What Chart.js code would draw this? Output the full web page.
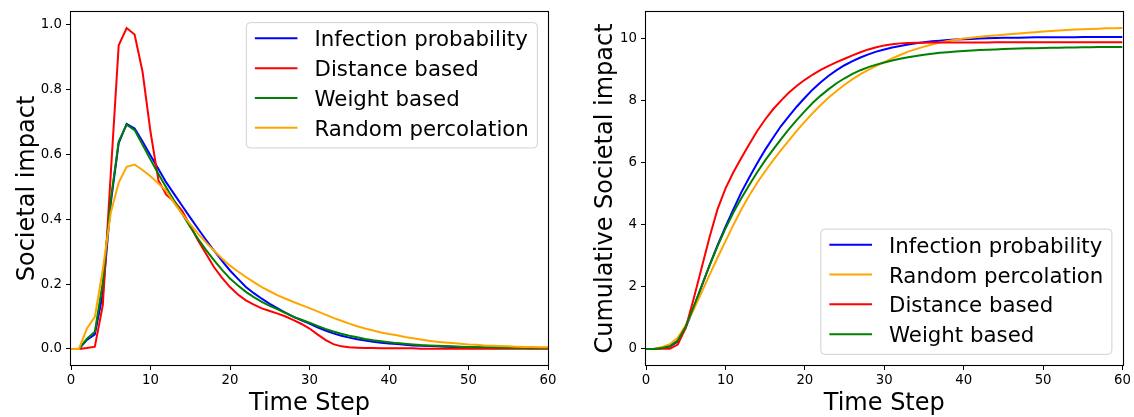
<!DOCTYPE html>
<html>
<head>
<meta charset="utf-8">
<script src="https://cdn.jsdelivr.net/npm/chart.js@4.4.1/dist/chart.umd.min.js"></script>
<style>
  html, body { margin: 0; padding: 0; background: #ffffff; }
  body { width: 1134px; height: 417px; position: relative; overflow: hidden; }
  canvas { position: absolute; top: 0; }
  #leftChart { left: 0; }
  #rightChart { left: 560px; }
</style>
</head>
<body>
<canvas id="leftChart" width="560" height="417"></canvas>
<canvas id="rightChart" width="574" height="417"></canvas>
<script>
// ---------------- DATA ----------------
const timeSteps = [
  0, 1, 2, 3, 4, 5, 6, 7, 8, 9,
  10, 11, 12, 13, 14, 15, 16, 17, 18, 19,
  20, 21, 22, 23, 24, 25, 26, 27, 28, 29,
  30, 31, 32, 33, 34, 35, 36, 37, 38, 39,
  40, 41, 42, 43, 44, 45, 46, 47, 48, 49,
  50, 51, 52, 53, 54, 55, 56, 57, 58, 59,
  60
];

const xTickValues = [0, 10, 20, 30, 40, 50, 60];
const xTickLabels = ['0', '10', '20', '30', '40', '50', '60'];
const yTickValuesLeft = [0, 0.2, 0.4, 0.6, 0.8, 1.0];
const yTickLabelsLeft = ['0.0', '0.2', '0.4', '0.6', '0.8', '1.0'];
const yTickValuesRight = [0, 2, 4, 6, 8, 10];
const yTickLabelsRight = ['0', '2', '4', '6', '8', '10'];

// Left panel: societal impact per time step
const impactInfection = [
  0, 0, 0.028, 0.045, 0.17, 0.45, 0.635, 0.694, 0.68, 0.64,
  0.597, 0.555, 0.513, 0.477, 0.441, 0.405, 0.370, 0.336, 0.303, 0.272,
  0.242, 0.216, 0.191, 0.172, 0.155, 0.139, 0.125, 0.111, 0.099, 0.088,
  0.078, 0.067, 0.057, 0.048, 0.041, 0.035, 0.030, 0.026, 0.022, 0.019,
  0.017, 0.015, 0.013, 0.011, 0.010, 0.009, 0.008, 0.007, 0.006, 0.006,
  0.005, 0.005, 0.004, 0.004, 0.004, 0.003, 0.003, 0.003, 0.002, 0.002,
  0.002
];
const impactDistance = [
  0, 0, 0.003, 0.007, 0.135, 0.54, 0.937, 0.99, 0.97, 0.855,
  0.67, 0.52, 0.475, 0.455, 0.425, 0.38, 0.334, 0.293, 0.252, 0.219,
  0.191, 0.168, 0.150, 0.137, 0.125, 0.117, 0.109, 0.100, 0.089, 0.077,
  0.063, 0.045, 0.028, 0.015, 0.008, 0.005, 0.004, 0.003, 0.003, 0.002,
  0.002, 0.002, 0.002, 0.002, 0.001, 0.001, 0.001, 0.001, 0.001, 0.001,
  0.001, 0.001, 0.001, 0.001, 0.001, 0.001, 0.001, 0.001, 0.001, 0.001,
  0.001
];
const impactWeight = [
  0, 0, 0.032, 0.053, 0.205, 0.46, 0.64, 0.692, 0.675, 0.63,
  0.584, 0.54, 0.497, 0.456, 0.416, 0.376, 0.339, 0.305, 0.273, 0.244,
  0.217, 0.196, 0.176, 0.160, 0.145, 0.133, 0.122, 0.111, 0.099, 0.090,
  0.081, 0.071, 0.062, 0.054, 0.047, 0.041, 0.036, 0.031, 0.027, 0.024,
  0.021, 0.018, 0.016, 0.014, 0.012, 0.011, 0.010, 0.009, 0.008, 0.007,
  0.006, 0.005, 0.005, 0.005, 0.004, 0.004, 0.003, 0.003, 0.003, 0.003,
  0.003
];
const impactRandom = [
  0, 0, 0.063, 0.099, 0.245, 0.42, 0.513, 0.562, 0.569, 0.552,
  0.533, 0.51, 0.487, 0.45, 0.416, 0.385, 0.355, 0.328, 0.303, 0.279,
  0.257, 0.239, 0.222, 0.206, 0.191, 0.178, 0.165, 0.155, 0.145, 0.135,
  0.126, 0.116, 0.106, 0.096, 0.087, 0.078, 0.070, 0.063, 0.057, 0.051,
  0.046, 0.042, 0.037, 0.033, 0.029, 0.025, 0.022, 0.020, 0.018, 0.016,
  0.014, 0.013, 0.011, 0.010, 0.009, 0.008, 0.007, 0.006, 0.006, 0.005,
  0.005
];

// Right panel: cumulative societal impact
const cumInfection = [
  0, 0, 0.03, 0.075, 0.24, 0.69, 1.33, 2.02, 2.70, 3.34,
  3.94, 4.50, 5.05, 5.53, 5.99, 6.42, 6.81, 7.19, 7.51, 7.82,
  8.10, 8.37, 8.60, 8.81, 8.99, 9.15, 9.28, 9.40, 9.50, 9.59,
  9.66, 9.72, 9.77, 9.82, 9.86, 9.89, 9.92, 9.94, 9.96, 9.98,
  9.99, 10.00, 10.01, 10.02, 10.03, 10.035, 10.04, 10.04, 10.045, 10.05,
  10.05, 10.05, 10.055, 10.055, 10.055, 10.06, 10.06, 10.06, 10.06, 10.06,
  10.06
];
const cumRandom = [
  0, 0, 0.06, 0.15, 0.36, 0.76, 1.27, 1.83, 2.39, 2.94,
  3.47, 4.00, 4.50, 4.95, 5.36, 5.73, 6.08, 6.41, 6.73, 7.04,
  7.33, 7.61, 7.87, 8.11, 8.32, 8.52, 8.70, 8.86, 9.00, 9.13,
  9.25, 9.37, 9.48, 9.59, 9.67, 9.75, 9.82, 9.88, 9.93, 9.97,
  10.01, 10.04, 10.07, 10.09, 10.11, 10.13, 10.155, 10.175, 10.195, 10.215,
  10.235, 10.255, 10.27, 10.285, 10.30, 10.31, 10.32, 10.33, 10.34, 10.345,
  10.35
];
const cumDistance = [
  0, 0, 0.003, 0.01, 0.14, 0.68, 1.62, 2.61, 3.60, 4.50,
  5.17, 5.70, 6.16, 6.60, 7.03, 7.40, 7.73, 8.01, 8.27, 8.49,
  8.68, 8.85, 9.00, 9.13, 9.25, 9.36, 9.47, 9.57, 9.66, 9.73,
  9.79, 9.83, 9.855, 9.87, 9.875, 9.878, 9.88, 9.88, 9.882, 9.883,
  9.884, 9.885, 9.886, 9.887, 9.888, 9.889, 9.89, 9.89, 9.89, 9.89,
  9.89, 9.89, 9.89, 9.89, 9.89, 9.89, 9.89, 9.89, 9.89, 9.89,
  9.89
];
const cumWeight = [
  0, 0, 0.03, 0.085, 0.27, 0.72, 1.36, 2.03, 2.69, 3.31,
  3.88, 4.40, 4.86, 5.29, 5.70, 6.08, 6.43, 6.77, 7.09, 7.39,
  7.67, 7.94, 8.17, 8.38, 8.57, 8.73, 8.87, 8.99, 9.09, 9.17,
  9.24, 9.30, 9.36, 9.41, 9.45, 9.49, 9.52, 9.55, 9.57, 9.59,
  9.61, 9.625, 9.64, 9.65, 9.66, 9.67, 9.68, 9.69, 9.695, 9.70,
  9.705, 9.71, 9.715, 9.72, 9.725, 9.73, 9.73, 9.735, 9.735, 9.74,
  9.74
];

// ---------------- STYLE / HELPERS ----------------
const FONT = '"DejaVu Sans", "Liberation Sans", sans-serif';
const COLORS = { blue: '#0000ff', red: '#ff0000', green: '#008000', orange: '#ffa500' };

function toPoints(values) {
  return timeSteps.map((t, i) => ({ x: t, y: values[i] }));
}
function makeDataset(label, values, color, idx, n) {
  return {
    label: label,
    data: toPoints(values),
    borderColor: color,
    backgroundColor: color,
    borderWidth: 2,
    pointRadius: 0,
    tension: 0,
    fill: false,
    order: n - idx
  };
}

const framePlugin = {
  id: 'mplFrame',
  afterDatasetsDraw(chart) {
    const { ctx, chartArea: a } = chart;
    ctx.save();
    ctx.strokeStyle = '#000000';
    ctx.lineWidth = 1.1;
    const l = Math.round(a.left) - 0.5, t = Math.round(a.top) - 0.5;
    const r = Math.round(a.right) + 0.5, b = Math.round(a.bottom) + 0.5;
    ctx.strokeRect(l, t, r - l, b - t);
    ctx.restore();
  }
};

const legendPlugin = {
  id: 'mplLegend',
  afterDraw(chart, args, opts) {
    const { ctx, chartArea: a } = chart;
    const fs = 21.3;
    const pad = 0.4 * fs, hl = 2 * fs, htp = 0.8 * fs, axPad = 0.5 * fs;
    const rowH = 29.8, boxH = 125.3, firstRow = 15.7;
    ctx.save();
    ctx.font = fs + 'px ' + FONT;
    const items = chart.data.datasets.map(d => ({ label: d.label, color: d.borderColor }));
    const tw = Math.max(...items.map(it => ctx.measureText(it.label).width));
    const w = pad + hl + htp + tw + pad;
    const x = a.right - axPad - w;
    const y = opts.loc === 'upper right' ? a.top + axPad : a.bottom - axPad - boxH;
    // frame
    const rad = 4;
    ctx.beginPath();
    ctx.moveTo(x + rad, y);
    ctx.lineTo(x + w - rad, y);
    ctx.quadraticCurveTo(x + w, y, x + w, y + rad);
    ctx.lineTo(x + w, y + boxH - rad);
    ctx.quadraticCurveTo(x + w, y + boxH, x + w - rad, y + boxH);
    ctx.lineTo(x + rad, y + boxH);
    ctx.quadraticCurveTo(x, y + boxH, x, y + boxH - rad);
    ctx.lineTo(x, y + rad);
    ctx.quadraticCurveTo(x, y, x + rad, y);
    ctx.closePath();
    ctx.fillStyle = 'rgba(255,255,255,0.8)';
    ctx.fill();
    ctx.strokeStyle = '#d0d0d0';
    ctx.lineWidth = 1;
    ctx.stroke();
    // rows
    items.forEach((it, i) => {
      const ly = y + firstRow + i * rowH;
      ctx.beginPath();
      ctx.strokeStyle = it.color;
      ctx.lineWidth = 2;
      ctx.moveTo(x + pad, ly);
      ctx.lineTo(x + pad + hl, ly);
      ctx.stroke();
      ctx.fillStyle = '#000000';
      ctx.textBaseline = 'alphabetic';
      ctx.textAlign = 'left';
      ctx.fillText(it.label, x + pad + hl + htp, ly + 8);
    });
    ctx.restore();
  }
};

function axisGrid() {
  return {
    display: true,
    drawOnChartArea: false,
    drawTicks: true,
    tickLength: 5,
    tickWidth: 1,
    tickColor: '#000000',
    color: '#000000'
  };
}

function makeChart(canvasId, datasets, cfg) {
  return new Chart(document.getElementById(canvasId), {
    type: 'line',
    data: { datasets: datasets },
    options: {
      responsive: false,
      animation: false,
      devicePixelRatio: 1,
      layout: { padding: { top: 10, right: cfg.padRight, left: 0, bottom: 0 } },
      plugins: {
        legend: { display: false },
        tooltip: { enabled: false },
        mplLegend: { loc: cfg.legendLoc }
      },
      scales: {
        x: {
          type: 'linear',
          min: 0,
          max: 60,
          afterBuildTicks: ax => { ax.ticks = xTickValues.map(v => ({ value: v })); },
          afterFit: s => { s.height = 52; },
          grid: axisGrid(),
          border: { display: false },
          ticks: {
            autoSkip: false,
            maxRotation: 0,
            padding: 3,
            color: '#000000',
            font: { family: FONT, size: 13.3 },
            callback: (v, i) => xTickLabels[i]
          },
          title: {
            display: true,
            text: 'Time Step',
            color: '#000000',
            font: { family: FONT, size: 24, lineHeight: 1.1 },
            padding: { top: 0, bottom: 0 }
          }
        },
        y: {
          type: 'linear',
          min: cfg.yMin,
          max: cfg.yMax,
          afterBuildTicks: ax => { ax.ticks = cfg.yTickValues.map(v => ({ value: v })); },
          afterFit: s => { s.width = cfg.yWidth; },
          grid: axisGrid(),
          border: { display: false },
          ticks: {
            autoSkip: false,
            padding: 4,
            color: '#000000',
            font: { family: FONT, size: 13.3 },
            callback: (v, i) => cfg.yTickLabels[i]
          },
          title: {
            display: true,
            text: cfg.yTitle,
            color: '#000000',
            font: { family: FONT, size: 24, lineHeight: 1.1 },
            padding: { top: cfg.yTitlePad, bottom: 0 }
          }
        }
      }
    },
    plugins: [framePlugin, legendPlugin]
  });
}

const leftSets = [
  ['Infection probability', impactInfection, COLORS.blue],
  ['Distance based', impactDistance, COLORS.red],
  ['Weight based', impactWeight, COLORS.green],
  ['Random percolation', impactRandom, COLORS.orange]
].map((s, i, arr) => makeDataset(s[0], s[1], s[2], i, arr.length));

const rightSets = [
  ['Infection probability', cumInfection, COLORS.blue],
  ['Random percolation', cumRandom, COLORS.orange],
  ['Distance based', cumDistance, COLORS.red],
  ['Weight based', cumWeight, COLORS.green]
].map((s, i, arr) => makeDataset(s[0], s[1], s[2], i, arr.length));

makeChart('leftChart', leftSets, {
  padRight: 12, yWidth: 71, yMin: -0.0495, yMax: 1.0395,
  yTickValues: yTickValuesLeft, yTickLabels: yTickLabelsLeft,
  yTitle: 'Societal impact', yTitlePad: 15, legendLoc: 'upper right'
});

makeChart('rightChart', rightSets, {
  padRight: 11, yWidth: 86, yMin: -0.5175, yMax: 10.8675,
  yTickValues: yTickValuesRight, yTickLabels: yTickLabelsRight,
  yTitle: 'Cumulative Societal impact', yTitlePad: 32.8, legendLoc: 'lower right'
});
</script>
</body>
</html>
